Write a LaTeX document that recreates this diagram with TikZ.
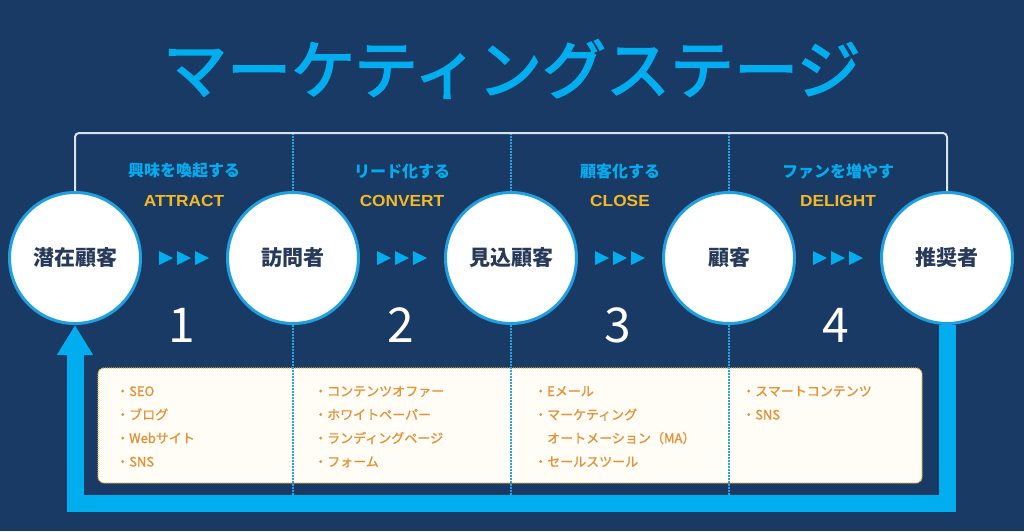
\documentclass[tikz,border=0pt]{standalone}
\usepackage{fontspec}
\setmainfont{Noto Sans CJK JP}
\newfontfamily\engfont{Liberation Sans}[FakeStretch=1.08]
\newfontfamily\medfont{Noto Sans CJK JP}[FakeBold=2.5]
\newfontfamily\itemfont{Noto Sans CJK JP}[FakeBold=1.2]
\usetikzlibrary{arrows.meta,positioning}

\definecolor{navy}{RGB}{26,58,102}
\definecolor{skyblue}{RGB}{0,174,239}
\definecolor{dotblue}{RGB}{40,165,225}
\definecolor{ringblue}{RGB}{30,160,225}
\definecolor{stageyellow}{RGB}{245,185,35}
\definecolor{itemorange}{RGB}{230,145,55}
\definecolor{labelnavy}{RGB}{40,58,90}
\definecolor{boxfill}{RGB}{255,253,246}
\definecolor{boxline}{RGB}{220,172,70}
\definecolor{bracketgray}{RGB}{215,228,240}

\tikzset{
  stage/.style={circle,draw=ringblue,line width=3pt,fill=white,minimum size=131pt,
    inner sep=0pt,text=labelnavy,font=\fontsize{21}{21}\selectfont\bfseries},
  verb/.style={text=skyblue,inner sep=0pt,font=\fontsize{16}{16}\selectfont\bfseries},
  eng/.style={text=stageyellow,inner sep=0pt,font=\engfont\fontsize{16}{16}\selectfont\bfseries},
  num/.style={text=white,inner sep=0pt,font=\fontsize{48}{48}\selectfont},
  item/.style={anchor=base west,align=left,inner sep=0pt,text=itemorange,
    font=\itemfont\fontsize{13}{23.5}\selectfont},
  divider/.style={dotblue,line width=2.5pt,dash pattern=on 1.5pt off 1.5pt},
  bigarrow/.style={skyblue,line width=17pt,line join=miter,
    -{Triangle[width=34pt,length=30pt]}}
}

\begin{document}
\begin{tikzpicture}[x=1pt,y=-1pt]
\useasboundingbox (0,0) rectangle (1024,531);
\fill[navy] (0,0) rectangle (1024,531);

% title
\node[text=skyblue,font=\medfont\fontsize{64}{64}\selectfont] (title) at (512,69) {マーケティングステージ};

% tools box
\draw[fill=boxfill,draw=boxline,line width=1.2pt,dash pattern=on 1pt off 1pt,rounded corners=6pt]
  (98,368) rectangle (922,483);

% dividers between the stages
\draw[divider] (293,133) -- (293,495);
\draw[divider] (511,133) -- (511,495);
\draw[divider] (729,133) -- (729,495);

% stages
\node[stage] (s1) at (75,258) {潜在顧客};
\node[stage] (s2) at (293,258) {訪問者};
\node[stage] (s3) at (511,258) {見込顧客};
\node[stage] (s4) at (729,258) {顧客};
\node[stage] (s5) at (947,258) {推奨者};

% bracket over the stages
\draw[bracketgray,line width=2pt,rounded corners=4pt] (s1.north) -- (75,133) -- (947,133) -- (s5.north);

% return arrow
\coordinate (b5) at (947,503);
\coordinate (b1) at (75,503);
\draw[bigarrow] (s5.south) -- (b5) -- (b1) -- (s1.south);

% small triangles
\foreach \m in {184,402,620,838}
  \foreach \d in {-18,0,18}
    \fill[skyblue] (\m+\d-7,251) -- (\m+\d+7,258) -- (\m+\d-7,265) -- cycle;

% stage names
\node[verb] (v1) at (184,171) {興味を喚起する};
\node[verb] (v2) at (402,171) {リード化する};
\node[verb] (v3) at (620,171) {顧客化する};
\node[verb] (v4) at (838,171) {ファンを増やす};
\node[eng] (e1) at (184,201) {ATTRACT};
\node[eng] (e2) at (402,201) {CONVERT};
\node[eng] (e3) at (620,201) {CLOSE};
\node[eng] (e4) at (838,201) {DELIGHT};
\node[num] (n1) at (182,325) {1};
\node[num] (n2) at (401,325) {2};
\node[num] (n3) at (618,325) {3};
\node[num] (n4) at (836,325) {4};

% tools (anchored at the baseline of the last line)
\node[item] (i1) at (116,466.5) {・SEO\\・ブログ\\・Webサイト\\・SNS};
\node[item] (i2) at (314,466.5) {・コンテンツオファー\\・ホワイトペーパー\\・ランディングページ\\・フォーム};
\node[item] (i3) at (534,466.5) {・Eメール\\・マーケティング\\\phantom{・}オートメーション（MA）\\・セールスツール};
\node[item] (i4) at (742,419.5) {・スマートコンテンツ\\・SNS};
\end{tikzpicture}
\end{document}
